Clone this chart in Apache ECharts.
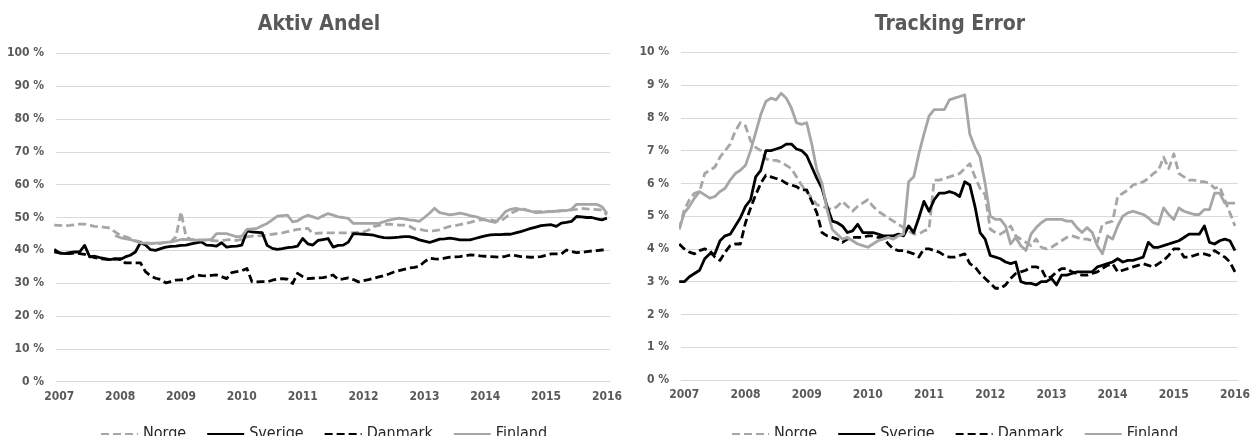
<!DOCTYPE html>
<html>
<head>
<meta charset="utf-8">
<script src="https://cdn.jsdelivr.net/npm/echarts@6/dist/echarts.min.js"></script>
<style>
  html, body { margin: 0; padding: 0; background: #ffffff; }
  #chart { width: 1253px; height: 436px; }
</style>
</head>
<body>
<div id="chart"></div>
<script>
// ---------- DATA ----------
// Monthly observations, Dec 2006 ... Jan 2016 (110 months)
const firstMonth = { year: 2006, month: 12 };
const monthCount = 110;
const yearTicks = [2007, 2008, 2009, 2010, 2011, 2012, 2013, 2014, 2015, 2016];
const seriesNames = ['Norge', 'Sverige', 'Danmark', 'Finland'];
const titles = ['Aktiv Andel', 'Tracking Error'];

// Aktiv Andel (%)
const aaNorge = [
  47.7,47.6,47.5,47.6,47.8,48.0,48.0,47.6,47.3,
  47.2,47.0,46.8,45.6,
  44.6,44.2,43.6,43.0,42.6,
  42.3,42.1,42.0,42.1,42.4,42.6,44.1,
  51.7,44.1,
  43.3,43.2,43.1,43.1,43.0,42.9,42.9,43.2,43.3,43.0,43.4,
  44.1,44.3,44.4,44.5,44.6,44.9,45.1,45.3,45.7,46.0,46.4,46.5,46.7,
  45.1,45.2,45.3,45.3,45.3,45.3,45.3,45.3,45.4,45.5,45.6,46.2,47.2,
  47.6,47.9,48.0,47.9,47.7,47.7,47.4,46.5,
  46.4,46.1,45.9,46.0,46.2,46.8,47.3,47.5,47.8,48.2,48.5,48.9,49.3,49.3,49.3,49.0,48.8,50.0,
  51.3,52.0,52.8,52.3,51.8,51.8,51.8,51.8,51.8,52.0,52.1,52.2,52.3,52.5,52.8,52.6,52.5,52.4,52.3,50.8
];
const aaSverige = [
  40.3,39.2,39.0,39.3,39.5,39.5,41.5,38.0,38.2,37.8,
  37.5,37.2,37.5,37.2,38.0,38.5,39.5,42.3,41.6,40.2,
  40.0,40.5,41.0,41.2,41.3,41.5,41.6,42.0,42.3,42.6,
  41.6,41.5,41.3,42.3,41.0,41.2,41.3,41.6,45.9,45.6,
  45.5,45.4,41.5,40.6,40.3,40.5,40.8,41.0,41.3,43.6,
  42.0,41.6,43.0,43.3,43.6,41.0,41.5,41.6,42.5,45.1,
  45.0,44.9,44.8,44.6,44.2,43.9,43.8,43.9,44.0,44.2,
  44.2,43.8,43.2,42.8,42.4,42.9,43.4,43.5,43.7,43.5,
  43.2,43.2,43.2,43.6,44.0,44.4,44.7,44.8,44.8,44.9,
  44.9,45.3,45.7,46.2,46.7,47.1,47.5,47.7,47.8,47.3,
  48.3,48.5,48.8,50.3,50.2,50.0,50.0,49.6,49.3,49.8
];
const aaDanmark = [
  39.5,39.2,39.0,39.0,39.2,39.0,38.8,
  38.2,37.8,37.5,37.3,37.2,37.3,37.5,
  36.2,36.2,36.2,36.2,
  33.5,32.2,31.5,31.1,30.1,30.5,30.9,
  31.0,31.1,31.8,32.5,32.3,32.2,32.4,32.5,32.0,31.4,33.2,33.5,33.8,
  34.5,30.4,30.4,30.5,30.4,30.9,31.2,31.4,31.2,29.9,33.0,32.0,31.4,
  31.5,31.6,31.7,32.0,32.5,31.1,31.3,31.6,31.1,30.4,30.8,31.1,31.5,31.9,32.3,32.8,33.4,
  33.8,34.2,34.6,34.8,35.1,36.5,37.6,37.4,37.3,37.6,
  37.9,38.0,38.1,38.3,38.6,38.5,38.3,38.2,38.1,38.0,
  37.9,38.2,38.6,38.4,38.1,38.0,37.9,38.0,38.1,38.5,
  38.9,38.9,38.9,40.1,39.6,39.3,39.4,39.6,39.8,39.9,
  40.1,40.3
];
const aaFinland = [
  null,null,null,null,null,null,null,null,null,null,null,null,
  44.5,43.9,43.6,43.3,42.8,42.3,42.2,42.1,42.2,42.3,42.4,42.6,42.9,
  43.3,43.3,43.2,43.1,43.1,43.2,43.3,45.1,45.1,45.1,44.6,44.1,44.3,
  46.4,46.5,46.7,47.5,48.2,49.3,50.4,50.6,50.7,48.7,49.0,50.0,50.7,
  50.2,49.7,50.5,51.2,50.7,50.2,50.0,49.7,48.2,48.2,48.2,48.2,48.2,48.2,48.7,49.2,49.5,
  49.8,49.6,49.3,49.1,48.8,50.0,51.3,52.8,51.5,51.2,
  50.8,51.0,51.3,51.0,50.6,50.3,49.8,49.3,48.8,48.5,
  50.0,51.8,52.5,52.8,52.5,52.3,51.9,51.5,51.6,51.7,
  51.8,51.9,52.0,52.1,52.5,54.0,54.0,54.0,54.0,54.0,
  53.3,51.3
];

// Tracking Error (%)
const teNorge = [
  4.6,5.2,5.5,5.7,5.75,6.3,6.4,6.5,6.8,7.0,
  7.2,7.6,7.85,7.75,7.3,7.1,7.0,6.75,6.7,6.7,
  6.65,6.55,6.45,6.2,5.95,5.75,5.55,5.35,5.3,5.25,
  5.2,5.3,5.45,5.3,5.15,5.3,5.4,5.5,5.3,5.15,
  5.05,4.95,4.85,4.75,4.65,4.55,4.45,4.45,4.55,4.6,
  6.1,6.1,6.15,6.2,6.25,6.3,6.45,6.6,6.2,5.85,
  5.65,4.6,4.5,4.45,4.55,4.7,4.4,4.3,4.2,4.1,
  4.3,4.05,4.0,4.05,4.15,4.25,4.35,4.4,4.35,4.3,
  4.3,4.25,4.2,4.75,4.8,4.85,5.6,5.7,5.8,5.95,
  6.0,6.05,6.15,6.3,6.4,6.8,6.45,6.9,6.3,6.2,
  6.1,6.1,6.05,6.05,6.0,5.85,5.9,5.5,5.1,4.7
];
const teSverige = [
  3.0,3.0,3.15,3.25,3.35,3.7,3.85,3.85,4.25,4.4,
  4.45,4.7,4.95,5.3,5.5,6.2,6.4,7.0,7.0,7.05,
  7.1,7.2,7.2,7.05,7.0,6.85,6.5,6.15,5.85,5.3,
  4.85,4.8,4.7,4.5,4.55,4.75,4.5,4.5,4.5,4.45,
  4.4,4.4,4.4,4.45,4.4,4.7,4.5,4.95,5.45,5.15,
  5.5,5.7,5.7,5.75,5.7,5.6,6.05,5.95,5.3,4.5,
  4.3,3.8,3.75,3.7,3.6,3.55,3.6,3.0,2.95,2.95,
  2.9,3.0,3.0,3.1,2.9,3.2,3.2,3.25,3.3,3.3,
  3.3,3.3,3.45,3.5,3.55,3.6,3.7,3.6,3.65,3.65,
  3.7,3.75,4.2,4.05,4.05,4.1,4.15,4.2,4.25,4.35,
  4.45,4.45,4.45,4.7,4.2,4.15,4.25,4.3,4.25,3.95
];
const teDanmark = [
  4.15,4.0,3.9,3.85,3.95,4.0,3.95,3.75,3.65,3.9,
  4.1,4.15,4.15,4.8,5.25,5.65,6.0,6.25,6.2,6.15,
  6.1,6.0,5.95,5.9,5.8,5.8,5.45,5.1,4.5,4.4,
  4.35,4.3,4.2,4.3,4.35,4.35,4.35,4.4,4.4,4.35,
  4.35,4.15,4.0,3.95,3.95,3.9,3.85,3.75,4.0,4.0,
  3.95,3.9,3.8,3.75,3.75,3.8,3.85,3.55,3.45,3.25,
  3.1,2.95,2.8,2.8,2.9,3.1,3.25,3.3,3.35,3.45,
  3.45,3.4,3.1,3.15,3.3,3.4,3.4,3.3,3.25,3.2,
  3.2,3.25,3.3,3.4,3.5,3.55,3.3,3.35,3.4,3.45,
  3.5,3.55,3.5,3.45,3.55,3.65,3.8,4.0,4.0,3.75,
  3.75,3.8,3.85,3.85,3.8,3.95,3.85,3.75,3.6,3.3
];
const teFinland = [
  4.6,5.1,5.3,5.55,5.75,5.65,5.55,5.6,5.75,5.85,
  6.1,6.3,6.4,6.55,7.0,7.55,8.1,8.5,8.6,8.55,
  8.75,8.6,8.3,7.85,7.8,7.85,7.2,6.4,6.0,5.2,
  4.6,4.45,4.3,4.35,4.25,4.15,4.1,4.05,4.15,4.25,
  4.3,4.35,4.3,4.4,4.45,6.05,6.2,6.9,7.5,8.05,
  8.25,8.25,8.25,8.55,8.6,8.65,8.7,7.5,7.1,6.8,
  6.0,5.0,4.9,4.9,4.7,4.15,4.35,4.1,3.95,4.45,
  4.65,4.8,4.9,4.9,4.9,4.9,4.85,4.85,4.65,4.5,
  4.65,4.5,4.1,3.85,4.4,4.3,4.7,5.0,5.1,5.15,
  5.1,5.05,4.95,4.8,4.75,5.25,5.05,4.9,5.25,5.15,
  5.1,5.05,5.05,5.2,5.2,5.7,5.7,5.4,5.4,5.4
];

// ---------- BUILD ----------
// decimal-year position of each monthly observation
const monthPos = [];
for (let i = 0; i < monthCount; i++) {
  const total = firstMonth.year * 12 + (firstMonth.month - 1) + i;
  monthPos.push(Math.floor(total / 12) + (total % 12) / 12);
}
function pairs(values) {
  return values.map((v, i) => [monthPos[i], v]);
}

const GREY = '#a6a6a6';
const BLACK = '#000000';
const styles = {
  Norge:   { color: GREY,  type: [8, 4] },
  Sverige: { color: BLACK, type: 'solid' },
  Danmark: { color: BLACK, type: [8, 4] },
  Finland: { color: GREY,  type: 'solid' }
};
const FONT = "'Liberation Sans Narrow', 'DejaVu Sans Condensed', 'Liberation Sans', sans-serif";
const LABEL = '#595959';

function makeSeries(name, values, idx) {
  const st = styles[name];
  return {
    name: name,
    type: 'line',
    xAxisIndex: idx,
    yAxisIndex: idx,
    data: pairs(values),
    showSymbol: false,
    symbol: 'none',
    connectNulls: false,
    lineStyle: { color: st.color, width: 2.8, type: st.type, cap: 'butt', join: 'round' },
    itemStyle: { color: st.color },
    emphasis: { disabled: true },
    animation: false
  };
}

function xAxis(idx) {
  return {
    type: 'value',
    gridIndex: idx,
    min: 2006.946,
    max: 2016.05,
    splitLine: { show: false },
    axisTick: { show: false },
    axisLine: { show: true, lineStyle: { color: '#d9d9d9', width: 1 } },
    axisLabel: {
      customValues: yearTicks,
      formatter: v => String(Math.round(v)),
      color: LABEL, fontFamily: FONT, fontWeight: 'bold', fontSize: 12, margin: 9
    }
  };
}
function yAxis(idx, max, interval) {
  return {
    type: 'value',
    gridIndex: idx,
    min: 0, max: max, interval: interval,
    axisLine: { show: false },
    axisTick: { show: false },
    splitLine: { show: true, lineStyle: { color: '#d9d9d9', width: 1 } },
    axisLabel: {
      formatter: '{value} %',
      color: LABEL, fontFamily: FONT, fontWeight: 'bold', fontSize: 12, margin: 12
    }
  };
}

const legendBase = {
  data: seriesNames,
  orient: 'horizontal',
  top: 421,
  itemWidth: 37,
  itemHeight: 12,
  itemGap: 20,
  selectedMode: false,
  itemStyle: { opacity: 0, borderWidth: 0 },
  textStyle: { color: '#262626', fontFamily: FONT, fontSize: 16 }
};

const option = {
  backgroundColor: '#ffffff',
  animation: false,
  title: [
    { text: titles[0], left: 314, top: 9, textAlign: 'center',
      textStyle: { color: LABEL, fontFamily: FONT, fontWeight: 'bold', fontSize: 21 } },
    { text: titles[1], left: 945, top: 9, textAlign: 'center',
      textStyle: { color: LABEL, fontFamily: FONT, fontWeight: 'bold', fontSize: 21 } }
  ],
  legend: [
    Object.assign({}, legendBase, { left: 95 }),
    Object.assign({}, legendBase, { left: 726 })
  ],
  grid: [
    { left: 56, top: 53.3, width: 554, height: 328.4 },
    { left: 681, top: 52.3, width: 561, height: 327.7 }
  ],
  xAxis: [xAxis(0), xAxis(1)],
  yAxis: [yAxis(0, 100, 10), yAxis(1, 10, 1)],
  series: [
    makeSeries('Norge', aaNorge, 0),
    makeSeries('Sverige', aaSverige, 0),
    makeSeries('Danmark', aaDanmark, 0),
    makeSeries('Finland', aaFinland, 0),
    makeSeries('Norge', teNorge, 1),
    makeSeries('Sverige', teSverige, 1),
    makeSeries('Danmark', teDanmark, 1),
    makeSeries('Finland', teFinland, 1)
  ]
};

const chart = echarts.init(document.getElementById('chart'), null, { renderer: 'canvas' });
chart.setOption(option);
</script>
</body>
</html>
